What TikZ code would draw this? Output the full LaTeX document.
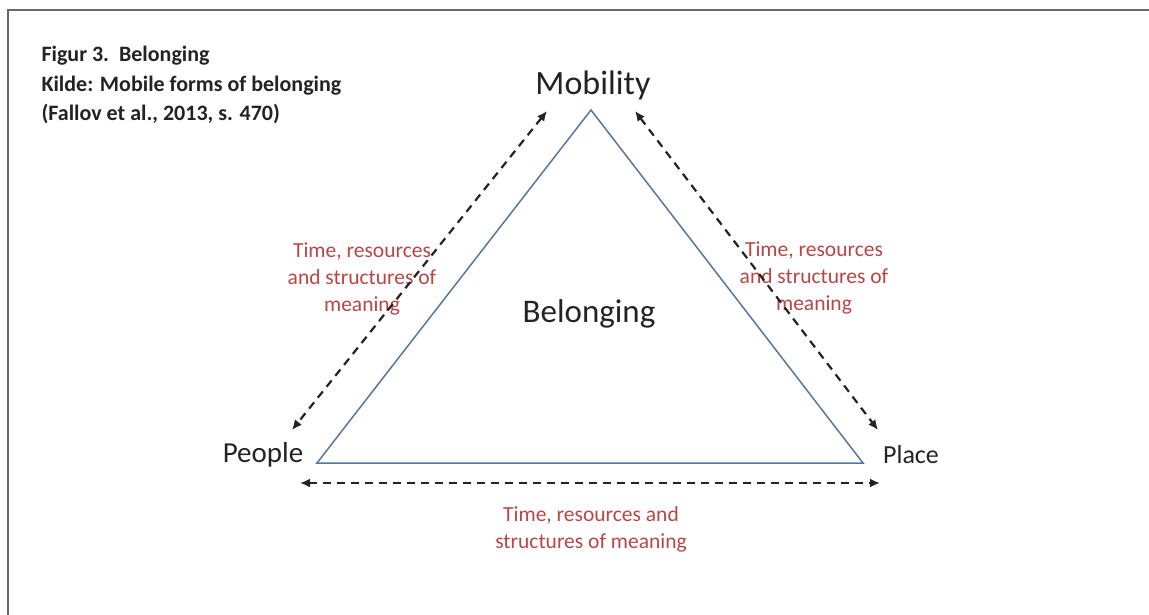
\documentclass[tikz,border=0pt]{standalone}
\usepackage{fontspec}
\setmainfont{Carlito}
\usetikzlibrary{arrows.meta}
\definecolor{framegray}{RGB}{105,105,105}
\definecolor{sideblue}{RGB}{88,118,158}
\definecolor{notered}{RGB}{185,70,70}
\definecolor{inkgray}{RGB}{35,35,35}

\begin{document}
\begin{tikzpicture}[x=1pt, y=-1pt,
    corner/.style={inkgray, anchor=base},
    sidenote/.style={notered, align=center, anchor=base, font=\fontsize{21.5}{27}\selectfont},
    link/.style={inkgray, line width=2.2pt, dash pattern=on 8pt off 6pt,
        {Latex[length=10pt,width=9pt]}-{Latex[length=10pt,width=9pt]}}]
    \useasboundingbox (0,0) rectangle (1149,615);

    % Frame
    \draw[framegray, line width=2pt] (1149,10) -- (8,10) -- (8,615);

    % Caption
    \node[inkgray, anchor=base west, font=\bfseries\fontsize{22}{26}\selectfont] (figur) at (38,62) {Figur 3.\ \ Belonging};
    \node[inkgray, anchor=base west, font=\bfseries\fontsize{22}{26}\selectfont] (kilde) at (38,92) {Kilde: Mobile forms of belonging};
    \node[inkgray, anchor=base west, font=\bfseries\fontsize{22}{26}\selectfont] (source) at (38,121) {(Fallov et al., 2013, s. 470)};

    % Triangle
    \coordinate (top) at (591,110);
    \coordinate (left) at (317,463);
    \coordinate (right) at (863,463);
    \draw[sideblue, line width=1.5pt] (top) -- (left) -- (right) -- cycle;

    % Corner labels
    \node[corner, font=\fontsize{34}{40}\selectfont] (mobility) at (593,95) {Mobility};
    \node[corner, font=\fontsize{33}{40}\selectfont] (belonging) at (589,322) {Belonging};
    \node[corner, font=\fontsize{29}{34}\selectfont] (people) at (263,462) {People};
    \node[corner, font=\fontsize{26}{30}\selectfont] (place) at (911,463) {Place};

    % Side notes (anchored on the baseline of their last line)
    \node[sidenote] (noteleft) at (362,311) {Time, resources\\and structures of\\meaning};
    \node[sidenote] (noteright) at (814,310) {Time, resources\\and structures of\\meaning};
    \node[sidenote] (notebottom) at (591,548) {Time, resources and\\structures of meaning};

    % Dashed two-way arrows
    \coordinate (lefttop) at (547,111);
    \coordinate (leftbot) at (292,430);
    \coordinate (righttop) at (635,111);
    \coordinate (rightbot) at (878,430);
    \coordinate (botleft) at (300,483);
    \coordinate (botright) at (880,483);
    \draw[link] (lefttop) -- (leftbot);
    \draw[link] (righttop) -- (rightbot);
    \draw[link] (botleft) -- (botright);
\end{tikzpicture}
\end{document}
